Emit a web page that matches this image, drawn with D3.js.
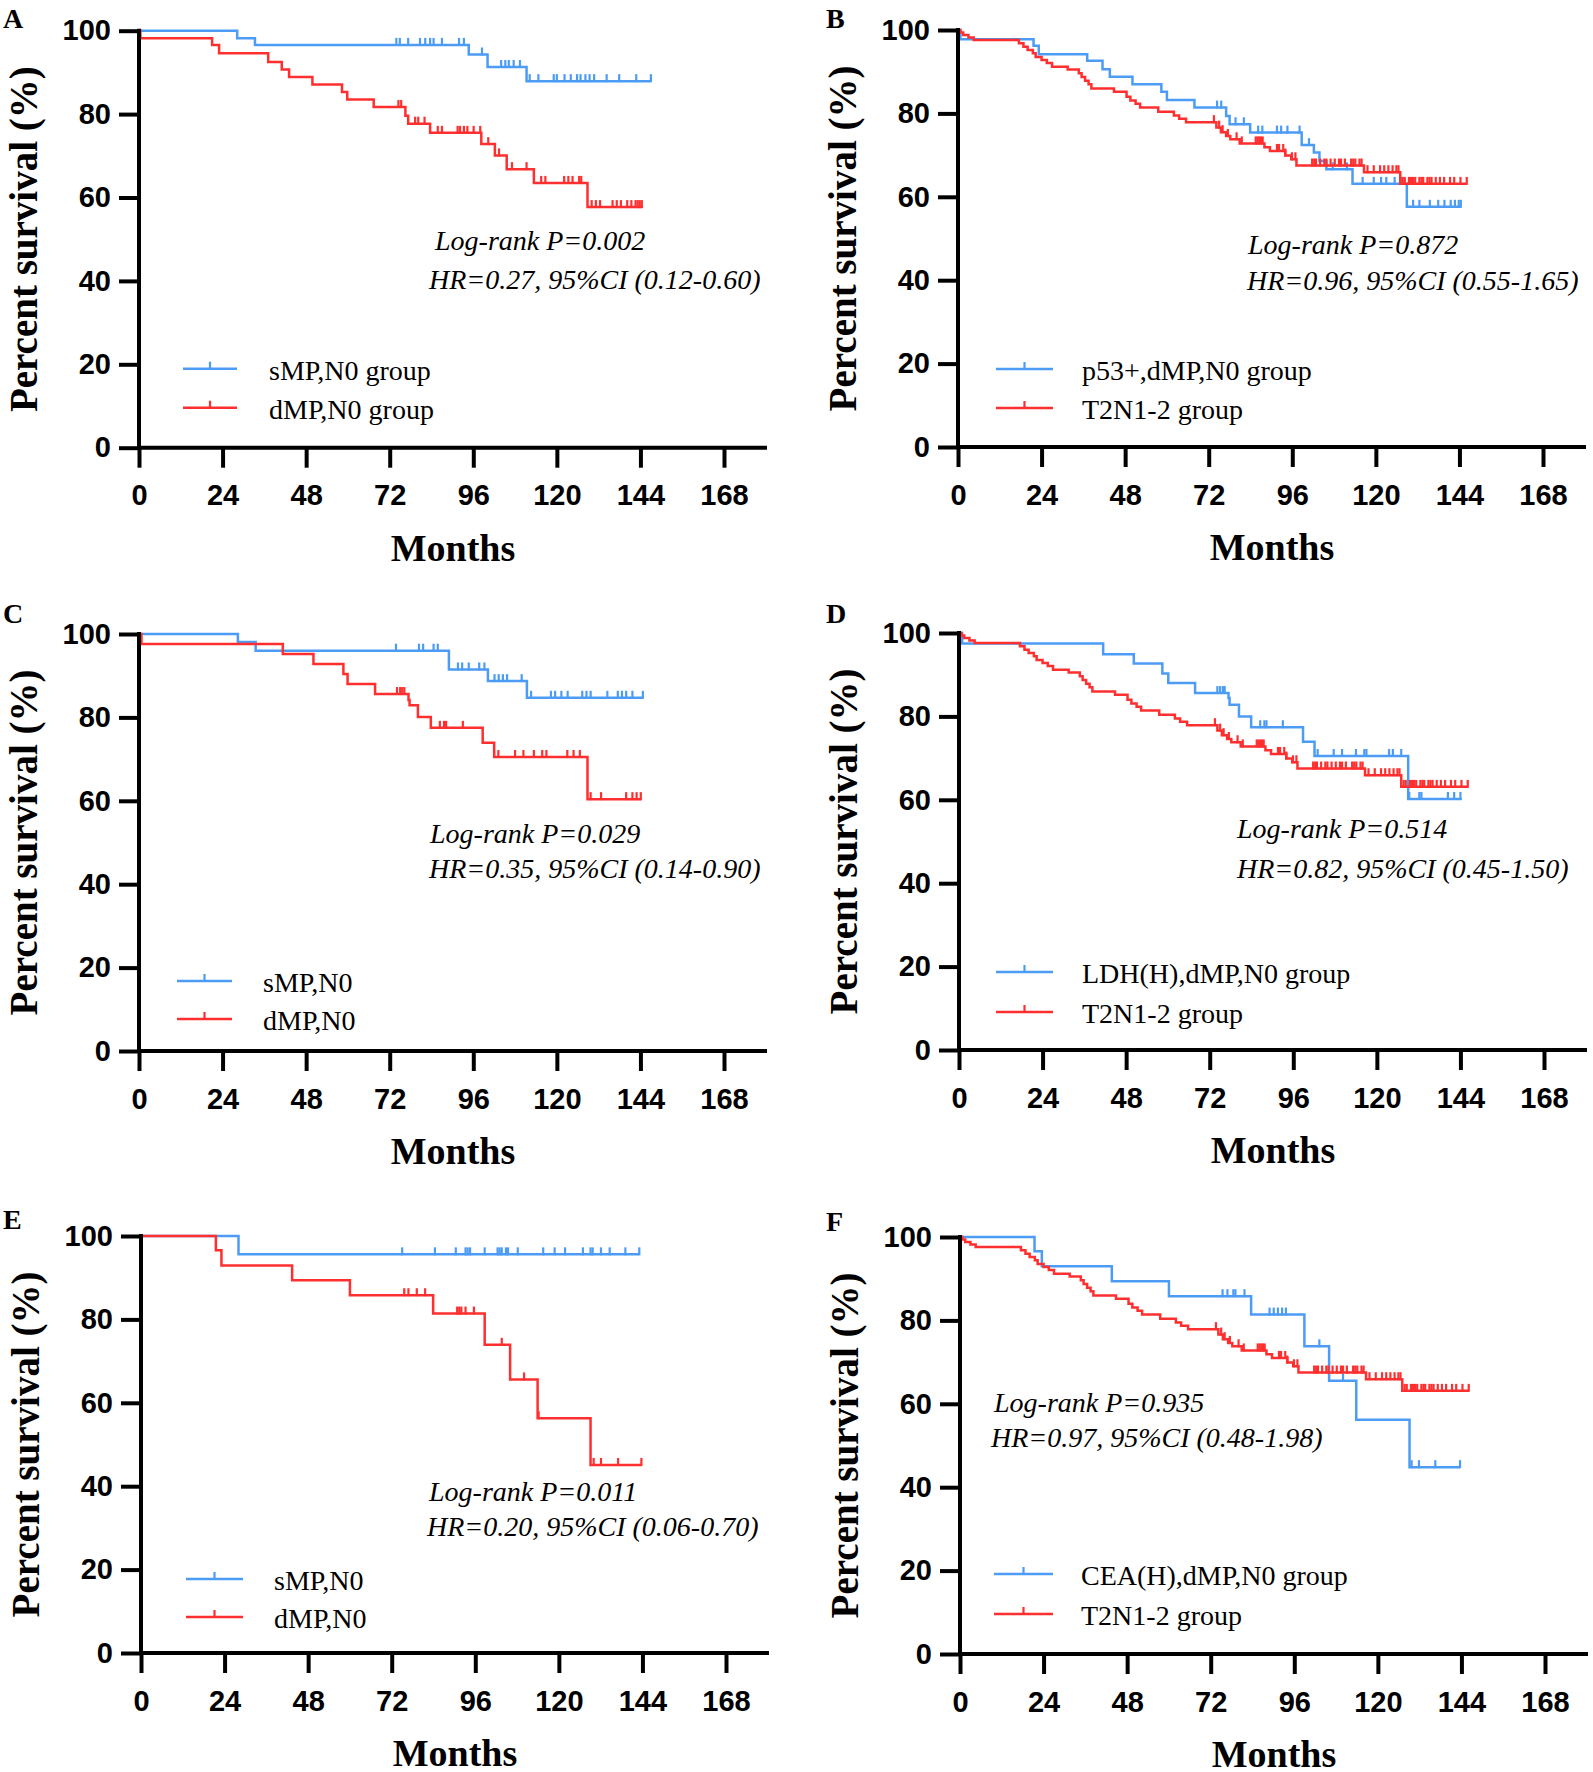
<!DOCTYPE html>
<html>
<head>
<meta charset="utf-8">
<script src="https://cdn.jsdelivr.net/npm/d3@7"></script>
<style>
  body { margin: 0; background: #fff; }
  svg { display: block; }
</style>
</head>
<body>
<svg id="chart"></svg>
<script>
// axis ticks
const monthTicks = [0, 24, 48, 72, 96, 120, 144, 168];
const pctTicks = [0, 20, 40, 60, 80, 100];

// each step: [month, survival % after the drop]; censored months; last follow-up

// A
const aBlueSteps = [[0,100],[28.2,98.2],[33.3,96.6],[94.7,94.3],[100.1,91.3],[111.3,87.9]];
const aBlueCens = [73.9,74.9,77.3,80.7,82.2,83.6,84.6,87,91.9,93.3,98.5,104,105.2,106.2,107.6,109.4,112.2,114.7,119.1,120,122.2,124,125.8,126.8,128.2,129.4,130.7,134.3,137.9,142.8,147];
const aBlueEnd = 147;
const aRedSteps = [[0,100],[0.4,98.2],[21,96.6],[23,94.6],[37.1,92.5],[41,90.7],[43.1,88.9],[49.8,87.1],[58.3,85.3],[59.8,83.5],[67.4,81.7],[76.5,79.6],[77.3,77.7],[83.6,75.5],[98.3,72.8],[102.2,70.1],[105.6,66.8],[113.4,63.5],[128.8,57.7]];
const aRedCens = [74.5,75.3,79.3,80.2,82,85.8,87,91.5,92.2,93.3,94.3,96.1,98,100.3,103.4,107.1,111.3,115.5,116.7,122.1,123.3,124.5,126.4,127,130,131.2,132.4,136,137.2,138.4,140.2,141.4,142.6,143.2,143.8,144.4];
const aRedEnd = 144.6;

// B
const bBlueSteps = [[0,100],[0.7,97.8],[21.7,96.2],[23.2,94.2],[37.1,92.6],[41.5,90.6],[43.6,88.8],[50.1,87],[58.4,85.2],[60,83.2],[67.9,81.4],[77,79.4],[78,77.4],[83.9,75.4],[98.7,72.4],[102.2,70.6],[103.8,68.6],[105.8,66.6],[113.3,63.1],[128.9,57.6]];
const bBlueCens = [74.4,75.6,79.7,82.1,86.2,87.4,91.6,92.8,94.6,98.1,100.8,107.6,111.7,116.2,119.4,121.5,123,125.4,127.2,130.7,132.5,135.5,137.9,139.7,141.5,142.7,143.8,144.4];
const bBlueEnd = 144.4;

// T2N1-2 group (same curve in B, D and F)
const t2Steps = [[0,100],[0.7,99.4],[1.5,98.8],[3,98.2],[4.5,97.6],[17.5,96.8],[18.8,96],[20,95.2],[21.5,94.4],[22.3,93.5],[24,92.8],[25.5,92.1],[27,91.2],[31.5,90.5],[34.7,89.6],[35.5,88.7],[36.5,87.8],[37.5,87],[38.3,86],[44.8,85.2],[48.4,84],[49.5,83.1],[51,82.3],[52.3,81.4],[57.5,80.4],[62,79.5],[63.5,78.7],[65.5,77.9],[74.2,76.6],[75.5,75.5],[77,74.6],[78.2,73.8],[80.9,72.8],[88,71.9],[89.6,71],[94,69.9],[95.7,69],[97.2,67.5],[116.6,65.9],[127,63.1]];
const t2Cens = [73.5,75,76,77.5,80,81.5,85.5,86,86.5,87,87.5,91.6,92.2,93.4,94,95.9,96.9,101.7,102.3,102.8,104,105.2,105.8,107,108.2,109.4,110,111.1,112.9,113.5,114.1,115.3,115.9,117.6,119.4,121.2,122.4,123.6,124.8,125.9,126.5,127.7,128.3,129.5,130.1,130.7,131.3,132.5,133.1,133.6,134.8,135.4,136,137.2,138.4,139.6,141.3,142.5,144.3,146.1];
const t2End = 146.1;

// C
const cBlueSteps = [[0,100],[28.4,98.1],[33.5,96],[89,91.5],[100.2,88.7],[111.4,84.7]];
const cBlueCens = [73.8,80.4,81.6,84.6,85.8,91.6,92.8,94.7,97.7,99.2,102.1,103.3,104.5,105.7,109.9,112.6,118.3,119.5,121.3,123.1,127.3,128.5,129.7,134.5,137.5,138.7,139.9,141.7,144.7];
const cBlueEnd = 144.8;
const cRedSteps = [[0,100],[0.7,97.6],[41.3,95.2],[50.1,92.8],[58.7,90.4],[59.9,88],[67.8,85.6],[77.4,84.2],[77.7,82.9],[80.1,80.1],[83.8,77.5],[98.7,73.9],[102,70.5],[128.8,60.4]];
const cRedCens = [74.1,75,75.6,76.2,86.4,87.6,88.2,93,103.2,108,110.4,113.4,115.8,117,123,124.8,126.6,129.7,132.7,139.9,141.7,142.9,144.1];
const cRedEnd = 144.3;

// D
const dBlueSteps = [[0,100],[0.9,97.5],[41.4,94.9],[50.2,92.7],[58.4,90.3],[60.1,88],[67.8,85.6],[77.4,84.4],[77.7,82.8],[80.4,80],[83.9,77.4],[98.8,73.9],[102.1,70.5],[129,60.2]];
const dBlueCens = [74.2,75,75.8,76.3,86.5,87.7,88.3,93,103,107.6,110,114,116.4,117,123.5,124.6,127,129.3,132.2,132.8,140.4,142.2,144];
const dBlueEnd = 144.4;

// E
const eBlueSteps = [[0,100],[28,95.6]];
const eBlueCens = [75,84.4,90.4,93.2,93.8,94.5,98.7,102.4,103,103.6,104.8,105.4,108.2,115.5,118.8,121.8,126.9,129.1,129.7,132.1,134.6,139.1,143.1];
const eBlueEnd = 143.1;
const eRedSteps = [[0,100],[21.5,96.6],[23.1,92.9],[43.4,89.4],[60,85.8],[83.9,81.4],[98.7,73.9],[106,65.6],[113.9,56.3],[129.1,45.1]];
const eRedCens = [75.6,76.8,79.2,81.6,90.8,91.4,92,93.2,95.6,103.6,110,114.2,130,132.1,137,143.7];
const eRedEnd = 143.7;

// F
const fBlueSteps = [[0,100],[21.4,96.6],[23.5,93],[43.6,89.4],[60,85.8],[83.6,81.4],[98.9,73.8],[106,65.5],[113.8,56.2],[129.1,44.8]];
const fBlueCens = [75.4,76.8,78.5,79.1,81.7,88.9,90.1,91.3,92.5,93.6,103.2,110,129.7,131.8,136.5,143.6];
const fBlueEnd = 143.6;

// legend and stats texts
const aLegend = ["sMP,N0 group", "dMP,N0 group"];
const bLegend = ["p53+,dMP,N0 group", "T2N1-2 group"];
const cLegend = ["sMP,N0", "dMP,N0"];
const dLegend = ["LDH(H),dMP,N0 group", "T2N1-2 group"];
const eLegend = ["sMP,N0", "dMP,N0"];
const fLegend = ["CEA(H),dMP,N0 group", "T2N1-2 group"];

const aStats = ["Log-rank P=0.002", "HR=0.27, 95%CI (0.12-0.60)"];
const bStats = ["Log-rank P=0.872", "HR=0.96, 95%CI (0.55-1.65)"];
const cStats = ["Log-rank P=0.029", "HR=0.35, 95%CI (0.14-0.90)"];
const dStats = ["Log-rank P=0.514", "HR=0.82, 95%CI (0.45-1.50)"];
const eStats = ["Log-rank P=0.011", "HR=0.20, 95%CI (0.06-0.70)"];
const fStats = ["Log-rank P=0.935", "HR=0.97, 95%CI (0.48-1.98)"];

const BLUE = "#4c9cf5";
const RED = "#ff2f2f";
const W = 585, H = 417;
const serif = "'Liberation Serif', 'Times New Roman', serif";
const sans = "'Liberation Sans', Arial, sans-serif";

const curve = (steps, cens, end, color) => ({steps, cens, end, color});

// layout per panel: origin is the (0 months, 100%) point
const panels = [
  {letter: "A", lx: 3, ly: 28, ox: 139, oy: 30.7,
   curves: [curve(aBlueSteps, aBlueCens, aBlueEnd, BLUE), curve(aRedSteps, aRedCens, aRedEnd, RED)],
   legend: aLegend, leg: {x1: 44, x2: 98, y: 338, gap: 39, tx: 130},
   stats: aStats, st: [[296, 219], [290, 258]]},
  {letter: "B", lx: 826, ly: 28, ox: 958, oy: 30,
   curves: [curve(bBlueSteps, bBlueCens, bBlueEnd, BLUE), curve(t2Steps, t2Cens, t2End, RED)],
   legend: bLegend, leg: {x1: 38, x2: 95, y: 339, gap: 39, tx: 124},
   stats: bStats, st: [[290, 224], [289, 260]]},
  {letter: "C", lx: 3, ly: 623, ox: 139, oy: 634,
   curves: [curve(cBlueSteps, cBlueCens, cBlueEnd, BLUE), curve(cRedSteps, cRedCens, cRedEnd, RED)],
   legend: cLegend, leg: {x1: 38, x2: 93, y: 347, gap: 38, tx: 124},
   stats: cStats, st: [[291, 209], [290, 244]]},
  {letter: "D", lx: 826, ly: 623, ox: 959, oy: 633,
   curves: [curve(dBlueSteps, dBlueCens, dBlueEnd, BLUE), curve(t2Steps, t2Cens, t2End, RED)],
   legend: dLegend, leg: {x1: 37, x2: 94, y: 339, gap: 40, tx: 123},
   stats: dStats, st: [[278, 205], [278, 245]]},
  {letter: "E", lx: 3, ly: 1229, ox: 141, oy: 1236,
   curves: [curve(eBlueSteps, eBlueCens, eBlueEnd, BLUE), curve(eRedSteps, eRedCens, eRedEnd, RED)],
   legend: eLegend, leg: {x1: 45, x2: 102, y: 343, gap: 38, tx: 133},
   stats: eStats, st: [[288, 265], [286, 300]]},
  {letter: "F", lx: 826, ly: 1231, ox: 960, oy: 1237,
   curves: [curve(fBlueSteps, fBlueCens, fBlueEnd, BLUE), curve(t2Steps, t2Cens, t2End, RED)],
   legend: fLegend, leg: {x1: 34, x2: 93, y: 337, gap: 40, tx: 121},
   stats: fStats, st: [[34, 175], [31, 210]]}
];

const svg = d3.select("#chart")
  .attr("width", 1593)
  .attr("height", 1772)
  .style("background", "#fff");

function survAt(steps, t) {
  let s = 100;
  for (const [tt, v] of steps) if (tt <= t) s = v;
  return s;
}

function drawPanel(p) {
  const g = svg.append("g");
  const x = d3.scaleLinear().domain([0, 168]).range([p.ox, p.ox + W]);
  const y = d3.scaleLinear().domain([0, 100]).range([p.oy + H, p.oy]);

  // survival curves with censor marks
  p.curves.forEach(c => {
    const pts = c.steps.concat([[c.end, c.steps[c.steps.length - 1][1]]]);
    g.append("path")
      .attr("d", d3.line().x(d => x(d[0])).y(d => y(d[1])).curve(d3.curveStepAfter)(pts))
      .attr("fill", "none")
      .attr("stroke", c.color)
      .attr("stroke-width", 2.5);
    g.selectAll(null)
      .data(c.cens)
      .enter()
      .append("line")
        .attr("x1", d => x(d))
        .attr("x2", d => x(d))
        .attr("y1", d => y(survAt(c.steps, d)) + 1)
        .attr("y2", d => y(survAt(c.steps, d)) - 7)
        .attr("stroke", c.color)
        .attr("stroke-width", 2.2);
  });

  // y axis
  const ya = g.append("g")
    .attr("transform", `translate(${p.ox}, 0)`)
    .call(d3.axisLeft(y).tickValues(pctTicks).tickSize(20).tickPadding(8).tickSizeOuter(0));
  // x axis, line runs on past 168
  const xa = g.append("g")
    .attr("transform", `translate(0, ${p.oy + H})`)
    .call(d3.axisBottom(x).tickValues(monthTicks).tickSize(20).tickPadding(17).tickSizeOuter(0));
  xa.select(".domain").attr("d", `M${x(0) - 2},0H${x(168) + 43}`);
  ya.select(".domain").attr("d", `M0,${y(0) + 2}V${y(100) - 2}`);

  [ya, xa].forEach(a => {
    a.attr("font-family", sans).attr("font-size", 29).attr("font-weight", "bold");
    a.selectAll("path, line").attr("stroke", "#000").attr("stroke-width", 4);
    a.selectAll("text").attr("fill", "#000");
  });

  // axis titles
  g.append("text")
    .attr("transform", `translate(${p.ox - 102}, ${p.oy + H / 2}) rotate(-90)`)
    .attr("text-anchor", "middle")
    .attr("font-family", serif)
    .attr("font-weight", "bold")
    .attr("font-size", 39)
    .text("Percent survival (%)");
  g.append("text")
    .attr("x", (x(0) + x(168) + 43) / 2)
    .attr("y", p.oy + H + 113)
    .attr("text-anchor", "middle")
    .attr("font-family", serif)
    .attr("font-weight", "bold")
    .attr("font-size", 38)
    .text("Months");

  // panel letter
  g.append("text")
    .attr("x", p.lx)
    .attr("y", p.ly)
    .attr("font-family", serif)
    .attr("font-weight", "bold")
    .attr("font-size", 28)
    .text(p.letter);

  // legend
  p.legend.forEach((lab, i) => {
    const ly = p.oy + p.leg.y + i * p.leg.gap;
    const col = p.curves[i].color;
    g.append("line")
      .attr("x1", p.ox + p.leg.x1).attr("x2", p.ox + p.leg.x2)
      .attr("y1", ly).attr("y2", ly)
      .attr("stroke", col).attr("stroke-width", 2.5);
    const mx = p.ox + (p.leg.x1 + p.leg.x2) / 2;
    g.append("line")
      .attr("x1", mx).attr("x2", mx)
      .attr("y1", ly).attr("y2", ly - 7)
      .attr("stroke", col).attr("stroke-width", 2.2);
    g.append("text")
      .attr("x", p.ox + p.leg.tx)
      .attr("y", ly + 11)
      .attr("font-family", serif)
      .attr("font-size", 28)
      .text(lab);
  });

  // log-rank and HR
  p.stats.forEach((s, i) => {
    g.append("text")
      .attr("x", p.ox + p.st[i][0])
      .attr("y", p.oy + p.st[i][1])
      .attr("font-family", serif)
      .attr("font-style", "italic")
      .attr("font-size", 28)
      .text(s);
  });
}

panels.forEach(drawPanel);
</script>
</body>
</html>
